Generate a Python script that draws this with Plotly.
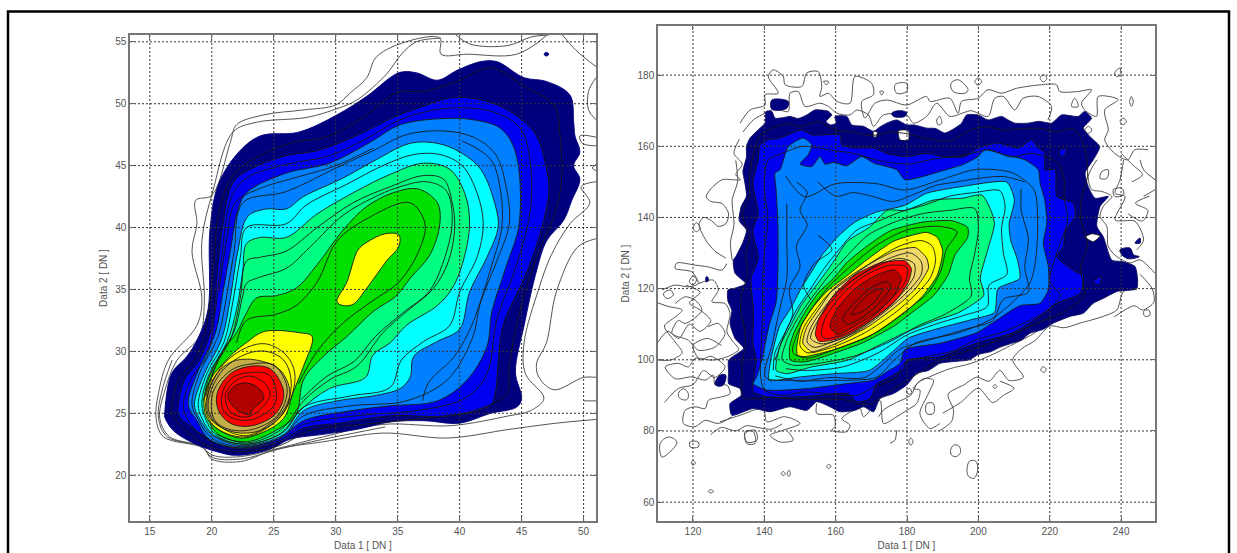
import plotly.graph_objects as go

NAVY="#00007f"; BLUE="#0000f0"; DODGER="#0080ff"; CYAN="#00ffff"; SPRING="#00ff80"; GREEN="#00e000"; YELLOW="#ffff00"; TAN="#f0d868"; OLIVE="#c4ae48"; RED="#ff0000"; DARK="#b00000"; WHITE="#ffffff"

X1_TICKS=[15,20,25,30,35,40,45,50]; Y1_TICKS=[20,25,30,35,40,45,50,55]
X2_TICKS=[120,140,160,180,200,220,240]; Y2_TICKS=[60,80,100,120,140,160,180]
X1_RANGE=[13.4,51.0]; Y1_RANGE=[16.3,55.55]
X2_RANGE=[110.2,249.5]; Y2_RANGE=[54.7,193.8]

# ---------- left panel
L_NAVY=[(16.2,25),(16.75,28.2),(18,29.6),(18.9,31.1),(19.7,33.4),(19.85,39.8),(20.5,43.4),(22,45.9),(23.9,47.4),(27,47.7),(30.1,49.1),(32.5,50.6),(35.1,52.5),(36.5,52.5),(38.2,51.9),(39.8,52.7),(41.7,53.4),(43,53.4),(45.2,52.1),(47,51.8),(48.9,50.7),(49.2,48.5),(49.3,47.4),(49.7,46.1),(49.2,45),(49.7,43.9),(49.05,42.2),(48.4,40.6),(47,38.9),(46.2,36.5),(45.2,32.1),(44.5,28.3),(45,26.2),(44.6,25.5),(42.5,25),(40,24.2),(37.1,24.4),(34.4,24.3),(31.7,23.7),(29,23.3),(26.3,22.9),(24.7,22.1),(22,21.6),(20.4,21.9),(18.5,22.6),(16.9,23.6),(16.2,24.7)]
L_BLUE=[(17.3,25.7),(17.8,27.7),(19,29.3),(20,32),(20.5,37),(20.9,40.3),(21.7,43.6),(23.1,44.7),(26,45.8),(28.5,46.2),(31.4,47.3),(34.9,49),(37.1,49.8),(39.5,50.5),(42.5,50.1),(44.9,48.8),(46.2,47.4),(46.9,45.2),(47.2,43),(46.4,39.2),(45.2,35.9),(43.5,32.1),(43.1,29),(42.9,26.8),(42.5,25.7),(39.2,24.8),(34.4,24.8),(30.3,24.2),(27.4,23.8),(25.5,22.7),(22.3,22.1),(19.9,22.9),(18.2,24),(17.3,24.9)]
L_DODGER=[(18.1,25.7),(18.8,28.2),(20.3,31.5),(20.9,34.8),(21.5,38.1),(22.1,41.4),(22.8,42.8),(26,44.4),(29.5,45.2),(32.8,46.9),(35.2,48.3),(38.7,48.8),(41.1,48.7),(43.3,48),(44.5,46.1),(44.8,40.3),(43.8,37),(42.6,33.2),(42.2,30.4),(40.6,27.7),(38.2,26),(34.4,25.6),(31.2,25.2),(27.4,24.4),(25.5,23),(22.3,22.2),(19.8,22.9),(18.8,24.4)]
L_CYAN=[(18.6,25.7),(19.4,28.2),(20.8,31),(21.5,34.3),(22.1,38.1),(22.9,40.9),(24.4,41.5),(26,41.5),(27.4,42.5),(30.6,44),(33.3,45.5),(36,46.8),(38.2,46.8),(40,46.1),(41.7,44.7),(42.9,41.7),(43.1,40),(42.2,37.6),(40.8,34.8),(40,31.8),(38.2,30.8),(36.3,29.6),(36,27.9),(35.2,27),(33,26.4),(30.1,26),(27.4,25.2),(25.8,23.3),(22.5,22.4),(20.1,23.2),(19,24.6)]
L_SPRING=[(19.2,26),(19.8,28.2),(21.2,30.7),(22,33.4),(22.5,36.5),(22.8,38.7),(23.9,39.2),(26,39.2),(28.5,41.1),(31.4,42.8),(34.4,44.3),(37.1,45.2),(39.2,44.7),(40.4,42.8),(40.8,40.3),(40.2,37),(39.4,35.1),(38.2,33.7),(35.7,32.1),(34.4,30.7),(33,29.7),(32.4,27.9),(29.5,27),(27.1,25.2),(25.6,23.4),(22.8,22.5),(20.4,23.2),(19.4,24.8)]
L_GREEN=[(19.4,26),(19.7,27.7),(20.9,30.1),(22,31.5),(22.7,32.9),(23.6,34.3),(25.2,34.5),(26.8,35.1),(28.5,37),(30.6,39.8),(32.5,41.7),(34.9,42.9),(36.7,43.1),(38.2,42),(38.4,40.3),(37.6,37.8),(36,35.9),(34.9,34.5),(33,33.2),(30.9,31.2),(29,29.6),(27.4,27.7),(26.8,24.9),(25.5,23.8),(22.8,22.7),(20.5,23.3),(19.6,24.8)]
L_YELLOW_A=[(22.8,30.7),(24.2,31.6),(27.1,31.5),(28.1,31.2),(27.4,28.8),(26.6,26.8),(25.8,24.6),(24.2,23.5),(22.3,23),(20.7,23.6),(19.6,24.6),(19.4,26.3),(20,27.9),(20.9,29),(22,30.1)]
L_YELLOW_B=[(30.1,34),(30.9,35.6),(31.8,38.2),(32.5,38.8),(34,39.5),(35.1,39.4),(35.1,38.5),(34.1,37.3),(32.5,35.1),(31.4,33.8),(30.6,33.7)]
L_TAN=[(19.7,26.6),(20.4,28.2),(21.7,29.2),(23.6,29.3),(25.5,28.5),(26.3,26.8),(25.9,25.2),(24.4,23.8),(22.3,23.4),(20.5,24),(19.7,24.9)]
L_RED=[(20.5,26.8),(21.5,28.2),(23.1,28.8),(24.7,28.6),(25.6,27.4),(25.8,26.3),(25.1,24.9),(23.3,24),(21.7,24.1),(20.8,24.8),(20.4,25.7)]
L_DARK=[(21.3,26.4),(22,27.3),(23.1,27.4),(24,26.8),(24.2,26.2),(23.3,25.3),(23.1,24.9),(22,25.3)]
LEFT_FILLS=[(L_NAVY,NAVY),(L_BLUE,BLUE),(L_DODGER,DODGER),(L_CYAN,CYAN),(L_SPRING,SPRING),(L_GREEN,GREEN),(L_YELLOW_A,YELLOW),(L_YELLOW_B,YELLOW),(L_TAN,OLIVE),(L_RED,RED),(L_DARK,DARK)]

L_C1=[(16.8,25.7),(17.3,27.7),(18.8,29.6),(19.6,32.3),(20.2,37.6),(20.5,40.9),(21.5,43.9),(22.8,45.2),(26.3,46.8),(29.5,47.4),(32.5,49.1),(34.9,50.9),(37.1,51),(39.8,51.8),(42.5,52.9),(45.2,51.4),(47.6,49.9),(48.1,47.4),(48.2,43.6),(47.6,40.9),(46.2,37.6),(44.9,33.4),(44,28.8),(43.8,26.6),(41.1,25.2),(37.1,24.6),(32.2,24.1),(27.9,23.6),(25.5,22.4),(22,21.9),(19.6,22.4),(17.7,23.8),(16.8,24.9),(16.8,25.7)]
L_C2=[(17.7,25.7),(18.4,27.9),(19.6,29.6),(20.3,33.4),(20.8,37.6),(21.6,42.5),(22.8,44),(26,45.1),(29.5,45.8),(32.5,47.2),(35.2,48.7),(38.7,49.6),(42.5,49.4),(44.9,48),(45.7,45.2),(45.7,41.4),(44.6,37),(43,32.6),(42.2,28.2),(40.6,26.3),(37.1,25.3),(31.7,24.8),(27.4,24.1),(25.5,22.8),(22.3,22.2),(19.3,23.1),(18,24.6),(17.7,25.7)]
L_C3=[(18.4,25.7),(19,28.2),(20.5,31.2),(21.2,34.5),(21.8,38.1),(22.5,42),(26,42.9),(29.8,44.7),(33,46.2),(35.7,47.5),(38.7,47.8),(41.1,47.3),(42.9,45.9),(43.8,43),(44,40.3),(43,37.3),(41.7,34),(41,31),(39,27.7),(35.7,26),(31.2,25.6),(27.4,24.8),(25.7,23.1),(22.4,22.3),(20,23),(18.9,24.5),(18.4,25.7)]
L_C4=[(18.9,25.7),(19.6,28.2),(21,30.8),(21.7,34),(22.3,37.6),(22.8,40),(26,40.3),(27.6,41.8),(30.9,43.5),(33.8,45),(36.3,45.9),(38.4,45.9),(40.2,45),(41.4,42.8),(41.9,40.3),(41.4,37.6),(40,34.8),(39.2,32.1),(37.1,30.8),(35.3,29.3),(34.4,27.1),(31.2,26.4),(27.4,25.5),(25.8,23.5),(22.7,22.5),(20.2,23.2),(19.2,24.6),(18.9,25.7)]
L_C5=[(19.3,26),(20.3,28.8),(21.6,31.2),(22.3,34.3),(22.8,37.3),(23.9,37.6),(26,38.1),(28.5,40),(31.4,42),(34.4,43.3),(37.1,44.2),(38.7,43.9),(39.4,42),(39.6,40),(39.1,37.3),(37.9,35.1),(35.7,33.2),(33.8,31.5),(31.7,28.8),(29.5,27.7),(27.4,26),(25.6,23.7),(22.8,22.6),(20.4,23.3)]
L_C6=[(19.5,26.3),(20.5,29.3),(21.8,31.6),(22.5,34.5),(22.8,35.5),(23.9,36),(26,36.7),(27.9,38.4),(30.6,41),(33,42.4),(34.9,43.2),(37.3,43.7),(38.9,43),(39.4,40.5),(38.6,37),(37.5,34.8),(35.4,33.1),(33.2,31.2),(31.5,29.2),(29.3,28),(27.2,26.1)]
L_C7=[(22,30.7),(22.8,32.5),(25.2,33),(26.8,33.7),(28.5,35.6),(30.1,38.9),(32.5,40.7),(36,42),(37.2,40.3),(36.7,38.1),(35.1,35.6),(33,34.1),(30.6,32.3),(28.5,30),(27,27.4)]
L_C8=[(40.2,47),(42.5,45.5),(43.3,43),(43.4,40),(42.6,37),(41.5,33.5),(40.7,31.5),(39.5,29.5),(37.5,27.5),(37,26)]
L_C9=[(20.6,35),(21.2,39),(21.9,42),(24,43.2),(27,44.1),(30,45),(33,46.4)]
L_R1=[(19.6,26.3),(20.9,28.9),(22.8,30.3),(24.4,30.6),(26,29.7),(26.7,28.2),(26.3,26),(25.2,24.4),(22.8,23.1),(20.5,23.7),(19.6,24.9),(19.6,26.3)]
L_R2=[(19.8,26.4),(20.9,28.5),(22.8,29.8),(24.4,30),(25.8,29.3),(26.4,27.7),(26.1,25.8),(25,24.4),(22.8,23.2),(20.7,23.9),(19.8,25),(19.8,26.4)]
L_R3=[(20.1,26.7),(21.6,28.5),(23.3,29),(25,28.9),(26,27.4),(26,26.2),(25.2,24.7),(23.3,23.7),(21.4,23.7),(20.2,24.5),(20.1,26.7)]
L_R4=[(20.9,26.8),(21.7,27.9),(23.1,28.3),(24.6,28.1),(25.2,26.8),(25,25.6),(23.3,24.5),(21.7,24.6),(20.9,25.3),(20.9,26.8)]
L_R5=[(21.1,26.5),(21.9,27.6),(23.1,28),(24.3,27.4),(24.7,26.5),(23.9,25.3),(22.8,24.7),(21.5,25.1),(21.1,26.5)]
LEFT_LINES=[L_C1,L_C2,L_C3,L_C4,L_C5,L_C6,L_C7,L_C8,L_C9,L_R1,L_R2,L_R3,L_R4,L_R5]

L_O1=[(51,24.5),(47.8,24.2),(44,23.7),(39,23),(33.8,23.4),(29,22.7),(25.2,22.1),(22.3,21.1),(20,21.3),(19.3,22.2),(16.1,23.1),(15.5,24.6),(15.7,26.6),(16.5,29.3),(18.8,32.1),(19.2,34.3),(18.4,38.1),(18.8,40.3),(18.7,42.2),(20,42.6),(21.5,46.9),(22,48.3),(24.2,49.1),(27.4,49.5),(30,49.9),(31.2,50.9),(32.5,52.1),(33.3,53.8),(36,55.1),(38.4,55.3),(38.5,54),(40.6,54),(44.6,54),(47,55.5)]
L_O2=[(39.7,55.55),(40.9,54.8),(43.9,54.7),(45.8,55.4),(47.2,55.55)]
L_O3=[(48.3,55.55),(49.4,54.3),(51,53)]
L_O4=[(51,39.1),(49.5,38.4),(47.8,34.8),(47,30.7),(46.2,29),(46.4,27.9),(47.6,26.9),(50,27.9),(51,27.9)]
L_O5=[(50,26),(51,26)]
L_O6=[(51,43.7),(49.8,43.3),(50.5,42),(48.9,40.3),(47.4,37.8),(46.4,35.1),(45.2,30.7),(45.3,28.2),(46.8,26.2),(45.7,25.2),(44,24.8),(39.3,24),(33.8,24.1),(29,23.1),(25.5,22.2),(22.3,21.5),(20.1,21.6),(19,22.4),(16.6,23.1),(15.8,24.6),(16.2,26.8),(17.2,29.3),(19,31.2),(19.4,34),(19.2,38.9),(20.1,43),(21.7,47.7),(23.6,48.5),(27.7,48.9),(30.1,49.6),(31.7,50.3),(34.1,52.4),(35.3,54),(36.5,55),(38.5,55.3)]
L_O7=[(51,52.1),(50.4,51),(50.4,49.5),(51,48.7)]
L_O8=[(51,47.3),(49.7,47.4),(49.9,46.8),(51,46.6)]
L_O9=[(51,45.1),(50.7,44.8),(51,44.6)]
L_O10=[(34,23.9),(29,22.9),(25.4,22.1),(22.3,21.3),(20,21.45),(19.2,22.3),(16.4,23.1),(15.7,24.6),(15.95,26.7),(16.8,29.3)]
LEFT_OUTER=[L_O1,L_O2,L_O3,L_O4,L_O5,L_O6,L_O7,L_O8,L_O9,L_O10]
L_SPOT=[(46.8,54),(47,54.15),(47.2,54),(47,53.85)]

# ---------- right panel
R_NAVY=[(130.9,84.4),(130.4,87.7),(133.5,90),(133.2,91.9),(130,93.3),(130,96.5),(130,99.9),(134.2,103.2),(131.8,106),(130.4,110.2),(130.9,113.9),(129.8,116.5),(129.8,119.6),(131.3,120),(134.8,121.4),(131.8,124.3),(131.3,128),(132,129),(134,133),(135,136.5),(133,139),(133.5,143),(135,146),(134.5,150),(134,153),(135,157),(135,160),(136,162.3),(138.8,165.1),(140.2,166.5),(140.5,169.8),(142.1,169.8),(143,167.9),(145,168),(147.2,168.4),(149.5,167.8),(151.9,168.8),(154.2,170.2),(158,169.8),(158.9,168.8),(157.3,167),(158.4,166),(160.1,166.5),(159.8,168.4),(163.1,168.4),(164.5,166),(167.8,165.6),(170.6,164.2),(172.5,165.5),(174.3,166.5),(177.1,167.4),(179.9,166),(182,166),(185.5,165.1),(188,165),(190.6,163.7),(193.4,165.1),(195.3,166.5),(196.7,168.8),(199.9,168.8),(202.7,167.4),(206.5,168.4),(208.5,167.3),(210.2,166.5),(214,166.5),(217,167),(220.5,166.5),(223.3,168.8),(228,168.4),(229.8,169.8),(231.7,167.9),(229.4,165.1),(231.7,162.3),(234,159.9),(232.2,156.2),(229.9,152.5),(230.8,148.7),(232.7,145.4),(236.4,145.9),(234.1,143.1),(233.2,137.5),(235,134.6),(237.4,128),(240.2,127.6),(243.9,126.2),(244.4,120.1),(238.8,119.2),(235.5,117.5),(232.2,115.9),(229.4,113.1),(225.7,112.2),(221,110.3),(218,108.5),(214.5,107.5),(212,105.5),(209.5,104.7),(206,103.5),(203.5,102.3),(200,101.5),(197.5,100),(193,99.5),(189.2,99),(186,97),(182.7,96.2),(179.9,92.9),(176.2,90.5),(172.4,89.1),(170.6,85.4),(167.8,86.8),(165.4,85.8),(161.2,85.4),(158.4,86.8),(154.7,88.2),(151.9,85.8),(147.2,86.8),(141.6,85.4),(136.9,86.3)]
R_BLUE=[(136.9,91),(140.7,89.6),(149.1,89.6),(155.6,90),(163.6,90.5),(165.9,88.2),(169.6,89.1),(171.5,93.3),(175.2,95.2),(179,97.6),(179.9,99.9),(189.5,100.9),(199.5,104.7),(209.6,107.6),(217.3,112.2),(222,115.9),(228.5,118.7),(229.4,123.9),(228,124.3),(222,129),(223.8,131.8),(224.3,136.1),(227.1,140.3),(226.6,144),(222,145.9),(221.5,153.4),(218.6,153.4),(218.6,158),(216.8,159.5),(214.9,161.8),(211.1,159.5),(205.5,160.9),(199.9,159.5),(196.2,157.1),(190.6,157),(185.5,158),(179.9,157.1),(174.3,158),(170.6,159.5),(165,159.5),(161.7,160.4),(161.2,163.2),(156.5,163.2),(153.3,163.2),(150.5,164.6),(144.4,162.3),(141.1,161.8),(138.8,160.4),(138.3,156.2),(136.8,149.7),(138.3,141),(136.8,136.3),(138.3,128.6),(136.3,122.9),(137,113.3),(136.8,104.7),(137.8,99.9),(136.8,93.2)]
R_BLUE2=[(222.8,159),(224.7,159.2),(224,157.1),(222.8,157.6)]
R_BLUE3=[(232.2,122),(234.6,123.5),(233.7,121)]
R_DODGER=[(143,152.5),(144.4,153.4),(146.7,159.9),(150.9,162.3),(153.3,160.4),(152.3,157.6),(150,155),(153.3,154.3),(155.6,157.1),(157,155),(159.5,155.5),(163,154.5),(167.3,157.1),(170.6,155.3),(177.1,153.4),(179.4,150.6),(189.5,153),(196,155),(199.9,157.1),(201.8,159),(207.4,157.6),(213,156.2),(216.8,153.4),(217.3,149.6),(218.6,144.9),(219.2,138.4),(218.2,132.8),(219.6,126.2),(219.6,119.7),(217.3,115.9),(211.6,115.2),(205.5,111.4),(199.5,107.6),(189.5,104.7),(179.4,102.8),(178,99),(174.3,96.6),(170.6,94.3),(163.1,93.3),(151.9,91.9),(140.7,91.5),(136.9,93.3),(137.8,95.1),(139.3,99.9),(141.3,109.5),(143.3,116.2),(143.8,124.8),(143.8,138.2),(143.3,147.8)]
R_CYAN=[(141.3,94.2),(141.8,99.9),(144.3,109.5),(147.3,114.3),(150.3,120),(153.3,124.8),(156.3,129.6),(160.4,134.4),(165.4,138.7),(171.4,141.5),(179.4,143.4),(185.5,146.8),(195.5,148.7),(208,149.9),(210.1,144.9),(208.6,138.2),(209.1,133.4),(210.8,128.6),(211.6,122.9),(205.5,120),(204.5,113.3),(198.5,111.4),(189.5,109),(180.4,106.1),(175.4,101.8),(169.4,97),(159.4,96.1),(149.3,95.1),(143.3,94.2)]
R_SPRING=[(143.3,97),(144.3,103.7),(147.3,109.5),(150.3,115.2),(155.3,121.9),(159.4,127.6),(163.4,133.4),(169.4,137.2),(174.4,142),(179.4,142),(187.5,144.9),(195.5,145.4),(201,146.3),(203.5,142),(204.5,138.2),(202.5,130.5),(200.5,122.9),(201.5,118.1),(194.5,113.3),(187.5,110.9),(179.4,107.6),(171.4,103.7),(163.4,99.9),(153.3,98),(146.3,96.1)]
R_GREEN=[(147.1,103.7),(148.3,107.6),(151.3,113.3),(155.3,119),(159.4,122.9),(163.4,127.6),(169.4,132.4),(175.4,136.3),(184.5,138.7),(192.5,139.1),(197,137.2),(197,134.4),(193.5,129.6),(191.5,123.8),(187.5,118.1),(181.4,113.3),(176.4,109.5),(167.4,104.7),(159.4,101.8),(151.3,99.4),(147.3,99.9)]
R_YELLOW=[(149.1,103.7),(150.3,109.5),(153.3,114.3),(157.3,119),(163.4,123.8),(169.4,128.6),(176.4,133.4),(185.5,135.8),(188.5,134.4),(190,130.5),(188.5,123.8),(184.5,118.1),(179.4,113.3),(169.4,106.6),(159.4,102.8),(151.3,100.9),(149.3,101.3)]
R_TAN=[(150.8,104.7),(151.8,109),(155.3,114.3),(159.4,120),(167.4,125.7),(176.4,130.5),(182.4,131.5),(185.5,128.6),(186,125.7),(182.4,120),(178.4,116.2),(169.4,109.5),(160.4,104.7),(153.3,102.3)]
R_RED=[(154.3,107.1),(155.3,111.4),(159.4,118.1),(165.4,123.8),(172.4,127.2),(179.4,127.8),(181.2,125.7),(180.4,121.9),(176.4,116.2),(170.4,111.4),(164.4,107.6),(159.4,105.6),(155.3,105.2)]
R_DARK=[(158.4,109.5),(160.4,114.3),(165.4,120),(171.4,123.8),(176.4,125.3),(178.4,122.9),(176.4,118.1),(171.4,113.3),(165.4,109.5),(160.4,107.1)]
R_WHITE1=[(229.9,134.5),(231.8,135.4),(234.1,134.8),(232.2,133.2)]
R_WHITE2=[(170.6,164.2),(171.7,163.9),(171.3,162.6),(170.6,162.7)]
R_WHITE3=[(177.6,164.4),(180.4,164.4),(180.4,161.8),(178,161.8)]
RIGHT_FILLS=[(R_NAVY,NAVY),(R_WHITE1,WHITE),(R_WHITE2,WHITE),(R_WHITE3,WHITE),(R_BLUE,BLUE),(R_BLUE2,BLUE),(R_BLUE3,BLUE),(R_DODGER,DODGER),(R_CYAN,CYAN),(R_SPRING,SPRING),(R_GREEN,GREEN),(R_YELLOW,YELLOW),(R_TAN,TAN),(R_RED,RED),(R_DARK,DARK)]

R_C1=[(134,89.4),(133.8,94),(133.8,99.9),(134.8,104),(134.3,109.5),(133.3,114),(133.8,119),(135.3,124),(134.8,129.6),(135.8,135),(133.8,141),(135.8,146),(135.8,150.6),(136.8,157.3),(138.8,163),(142,165),(146.3,166.4),(150,165.5),(155.3,166.9),(160,164.5),(164.4,164),(170,163),(175.4,164),(180,163.5),(186.5,162),(192,161.5),(197.5,164.5),(202,165.5),(207.5,164.5),(212,165),(217.6,165),(222,164),(226.6,165),(229.6,160.2),(230.6,151.6),(229,146),(228.6,140.1),(230.6,132.4),(228.6,125.7),(229.6,118.1),(223.6,113.3),(216.6,110.4),(208.6,106.6),(199.5,103.3),(189.5,99.9),(181.4,95.1),(175.4,91.3),(169.4,87.5),(161.4,88.9),(151.3,88.9),(142.3,89.4),(134,89.4)]
R_C2=[(140,91.5),(145,90),(151,91),(158,90.5),(166,90),(171,92.5),(177,95),(179,99),(186,101),(193,102.5),(199,105.5),(206,107.5),(212,110),(218,113),(223,118),(220,122),(221,127),(223,133),(225,139),(224,146),(224,151),(222,155.5),(215,158),(209,157),(203,159),(196,157.5),(188,156.5),(180,155),(172,156),(165,158),(158,159),(151,160),(145,158),(141,156),(140,148),(141,140),(140,130),(139.5,122),(139.5,112),(139,102),(139,95),(140,91.5)]
R_C3=[(146,151.6),(151.3,145.8),(160,149.5),(171.4,149.5),(179.4,147.7),(189.5,150.6),(199.5,153.5),(209.6,152.5),(215.6,147.7),(216.6,138.2),(216.1,128.6),(214.6,121.9),(209.6,116.2),(203.5,111.4),(194.5,107.6),(182.4,104.7),(176.4,99.9),(171.4,95.1),(159.4,94.2),(147.3,94.2),(140.3,95.1),(142.3,104.7),(144.3,114.3),(146.3,122.9),(146.3,133.4),(146.3,143.9)]
R_C4=[(149,150),(152,147),(150,142),(152,138),(149,132),(150,126),(147,120),(148,113),(146,108),(143,100)]
R_C5=[(155,150),(160,146),(165,147),(170,146),(176,144.5),(182,146.5),(188,149),(194,150),(200,151),(207,151.5),(213,150)]
R_C6=[(155,135),(159,131),(154,127),(151,121),(153,117)]
R_C7=[(143,95.5),(150,94),(158,95),(168,95),(173,98.5),(178,103),(186,105.5),(196,108.5),(204,111),(207,117),(214,119),(213,126),(214,134),(212,142),(212,148)]
R_C8=[(142.5,97),(143,102),(146,108),(149,114),(153,120),(157,126),(161,131),(166,136.5),(172,139),(178,141.5),(185,143.5),(192,146),(199,147),(206,147.5),(207.5,143),(206.5,137),(207,130),(208,124),(203,121),(202.5,115),(196,112.5),(188,110),(180,107),(172,102),(162,98),(152,97),(146,97.5)]
R_C9=[(145,100),(146.5,106),(149,111),(153,117),(158,123.5),(163,129),(169,135),(176,138.5),(184,141),(192,142),(199,142.5),(200,137),(199,130),(197.5,123),(198,118),(191,113),(183,109.5),(175,105),(165,101),(155,99),(148,98.5),(145,100)]
R_C10=[(148,102),(149.5,108),(153,114),(158,120.5),(165,127),(172,132.5),(180,136.5),(189,137.5),(194,136),(191,131),(189.5,125),(186,119),(180,114),(171,107.5),(160,103),(152,100.5),(148,102)]
R_Y1=[(150,104),(151,109),(154,113.5),(158,118.5),(164,123),(171,128),(178,132),(184,133.5),(187,132),(188,128),(186.5,123),(182,118),(177,113.5),(168,107.5),(159,103.5),(152,102),(150,104)]
R_Y2=[(152,105),(153,109),(157,115),(161,119.5),(168,124.5),(175,128.5),(181,130),(184,127.5),(184,124),(180,119),(175,114.5),(167,108.5),(159,105),(154,103.5),(152,105)]
R_Y3=[(153,106),(155,111),(159,116.5),(165,122.5),(172,126.5),(178,128.5),(182,127),(182,123.5),(178,118),(172,112.5),(163,106.5),(156,104.5),(153,106)]
R_D1=[(156,107),(157,111.5),(161.5,118),(168,123.5),(175,126.5),(180,126),(179.5,122),(175,116.5),(169,111),(162,107),(157,106),(156,107)]
R_D2=[(161.9,111.4),(165.4,116.2),(170.4,120.5),(174.4,121.9),(175.4,120.5),(172.4,116.2),(167.4,111.9),(163.4,110),(161.9,111.4)]
R_D3=[(164.4,112.8),(169.4,118.6),(173.1,120),(171.2,116.6),(166.9,113.3),(164.4,112.8)]
RIGHT_LINES=[R_C1,R_C2,R_C3,R_C4,R_C5,R_C6,R_C7,R_C8,R_C9,R_C10,R_Y1,R_Y2,R_Y3,R_D1,R_D2,R_D3]

# noisy outer contours
R_N1=[(111.3,119.6),(115,121),(118.7,120.5),(121.5,121.4),(119.7,124.7),(115,125.7),(115.5,127.2),(120.6,126.6),(124.3,126.1),(128.1,125.2),(129.5,127)]
R_N2=[(121.5,121.4),(125.7,122.4),(127.1,119.6),(125.3,116.3),(129,115.8),(130.4,113),(129.5,107.9),(130.9,105.5),(132.8,102.9),(129.5,100.8),(125.3,99.9),(120.6,100.4),(118.7,98),(115.9,99),(112.2,98),(115,94.7),(119.7,95.2),(123.4,94.3),(125.7,95.7),(126.2,92.9),(129.5,92.9),(130.4,90.5),(128.1,89.6),(124.3,88.6),(123.4,86.3),(120.6,86.8),(117.8,85.8),(117.3,82.1),(120.6,81.2),(123.4,83),(127.1,82.1),(130.9,84)]
R_N3=[(115,115.8),(117.8,117.7),(120.6,116.8),(122.5,113.9),(117.8,110.2),(115.9,111.1),(114.1,107.4),(118.7,105.5),(121.5,102.7),(126.2,103.6),(129,107.4),(127.1,110.2),(124.3,109.3)]
R_N4=[(127.6,82.6),(133.2,84.4),(139.7,86.3),(140.7,82.6),(145.3,84),(147.7,83.5),(150,82.1),(145.3,80.2),(141.6,78.8),(144.4,76.9),(148.1,77.4),(146.7,79.8)]
R_N5=[(154.7,87.7),(154.7,84.9),(159.4,84.4),(159.8,81.2),(158.9,80.2),(163.1,79.8),(164,81.6),(161.7,83.5),(166.8,86.3),(167.8,84),(172.4,88.6),(173.4,82.1),(177.1,84),(179.9,85.8),(182.7,87.7),(183.6,91.5),(181.8,91.9),(184.6,94.7),(187.4,94.3),(186,90.5),(183.6,84.9),(186.4,80.7),(189.2,82.1)]
R_N6=[(133.2,166.5),(136,170.2),(140.2,171.6),(140.2,174.5),(143.9,174.9),(141.1,179.6),(142.5,181.5),(145.3,179.6),(145.8,177.3),(150.5,176.8),(151.9,180.6),(155.1,181),(156.1,176.8),(155.6,174),(158,174.9),(160.3,172.6),(164,172.1),(165.4,179.6),(170.1,177.7),(170.6,174.5),(167.3,172.6),(168.2,167.9),(171,172.1),(174.3,173),(179.9,171.6),(185.5,174),(186.4,172.6),(192,173.5),(194.3,169.3),(195.3,172.6),(199.9,173.5),(202.7,175.9),(206.5,174.9),(210.7,176.3),(217.7,177.3),(221.9,177.3),(222.8,175.4),(228,175.4),(231.7,175.9),(228.9,172.1),(229.8,170.2),(233.1,168.4),(233.6,174),(239.2,173.1),(235.4,170.2),(236.4,164.6),(235.4,161.8),(238.2,158),(241.9,156.2),(243.8,159),(247.6,159)]
R_N7=[(134,164),(137,167.5),(140.2,169.3),(143,170.5),(146.7,169.8),(147.2,174.9),(149.5,175.4),(151.4,171.2),(155.6,172.1),(158,171.2),(160.3,169.3),(164,168.8),(165.9,170.2),(169.2,168.8),(170.6,165.6),(173.4,168.8),(179.9,168.8),(181.8,166.5),(185.5,168.4),(188.3,172.1),(192,168.4),(196,169.5),(198,170),(202.7,168.4),(204.6,173.5),(207,174),(210.2,170.2),(212.5,173.5),(216.7,174),(220.5,171.2),(219.5,167.4)]
R_N8=[(233.2,156.2),(230.8,151.5),(231.8,147.8),(234.6,147.3),(237.4,145.9),(235,143.1),(234.1,140.3),(236,137.5),(236.4,131.8),(238.8,129),(242.5,127.2),(245.3,128.1),(249.5,124.3)]
R_N9=[(240.7,156.2),(239.7,150.6),(238.3,146.8),(241.1,145.9),(238.3,139.3),(243.9,138.9),(246.3,133.7),(244.4,130.9)]
R_N10=[(244.4,119.7),(240.7,119.2),(238.8,114),(235,112.2),(228.5,110.3),(224,109),(220,109.5),(216,105.5),(212,103),(209.6,99.9),(212.6,95.1),(208.6,94.2),(206,97),(203,94),(199.5,95.1),(196,93),(191.5,90.3),(193,86),(192.5,82.7),(189,80)]
R_N11=[(245.3,156.2),(246.3,153.4),(249.5,150.6)]
R_N12=[(246.3,145.9),(249.5,147.8)]
R_N13=[(245.3,124),(248.7,120),(249.2,116.2),(246,114),(243.7,115.2),(238,112)]
R_N14=[(133,162),(131.5,158),(133.8,155),(132,152),(133.3,150.6),(128.2,150.6),(125,148),(123.7,145.8),(125,144.5),(128.2,143.9),(130,141),(129.2,138.2),(127,137.5),(125.2,139.1),(123,140),(121.7,138.2),(122.2,136.3),(124,133),(126.2,130.5),(129.2,128.6)]
R_N15=[(132,156),(132.5,150),(131,145),(131.5,138),(130.5,133),(131,128)]
R_N16=[(218,109),(214,106.5),(209,104),(204,101.5),(198,99),(192,97.5),(187,95.5),(183,93.5),(181,90),(177,88),(173.5,86),(172,84)]
R_N17=[(110.2,105),(113,108),(116,106),(119,110),(122,108),(125,111),(122,114),(119,116),(122,119),(118,121)]
R_N18=[(112,88),(116,92),(120,93),(123,97),(126,95),(129,98),(125,101),(122,100),(120,104),(124,106),(128,104)]
R_N19=[(125,79),(128,81),(132,80),(135,81.5),(138,81),(142,80.5),(145,82)]
R_N20=[(190,85),(195,88),(200,92),(204,88),(207,90),(210,92),(206,94)]
R_N21=[(110.2,116),(113,115),(117,114),(115,112),(112,109.5),(115,105),(117,102),(114,100),(110.4,99.9)]
R_N22=[(243,150),(246,152),(243,155),(240,158)]
R_N23=[(242,141),(246,139),(247.5,142),(244,144),(248,146)]
R_NETS=[R_N1,R_N2,R_N3,R_N4,R_N5,R_N6,R_N7,R_N8,R_N9,R_N10,R_N11,R_N12,R_N13,R_N14,R_N15,R_N16,R_N17,R_N18,R_N19,R_N20,R_N21,R_N22,R_N23]
R_LOOPS=[
 [(115.9,90.5),(117.3,91.9),(118.7,90.5),(118.3,88.8),(116.4,89.1)],
 [(111.7,118.6),(113.6,119.6),(114.5,118.2),(112.7,117.2)],
 [(119.2,76.9),(121.5,76.9),(121.5,75.5),(119.2,75.5)],
 [(110.8,76.5),(113.1,78.3),(115.5,76.9),(113.1,73.7),(111.3,72.7)],
 [(134.6,79.3),(137.4,80.2),(137.9,77.4),(135.1,76.9)],
 [(185.5,87.7),(187.4,87.7),(187.4,84.9),(185.5,84.9)],
 [(179.9,91.5),(180.8,91.9),(181.3,90.5),(180.1,90.5)],
 [(156.6,178.2),(158,178.2),(157.5,177.3)],
 [(176.6,177.3),(179.9,177.7),(179.9,175.4),(177.1,174.9)],
 [(172.4,175.4),(173.4,175.4),(172.9,174.4)],
 [(188.3,167.4),(189.2,168.4),(189.7,166.5),(188.8,166)],
 [(192.3,177.7),(194.3,178.7),(197.1,175.9),(196.2,174.9),(192.9,175.4)],
 [(199,178.2),(199.9,179.2),(200.9,178.2),(199.9,177.2)],
 [(217.3,179.1),(218.2,180.1),(219.2,179.1),(218.2,178.1)],
 [(238.2,180.6),(239.6,182),(239.9,180.1),(238.7,179.6)],
 [(242.4,172.6),(242.9,174),(243.4,172.6),(242.9,171.2)],
 [(239.7,167),(240.6,167.9),(241.5,167),(240.6,166.1)],
 [(227,173.5),(228,171.2),(226.1,171.2)],
 [(229.8,164.6),(230.8,165.6),(231.8,164.6),(230.8,163.6)],
 [(234.6,152.9),(236.4,153.4),(236,151),(234.1,151)],
 [(237.8,147.8),(240.2,148.2),(240.7,146.4),(238.3,145.9)],
 [(246.3,113.6),(247.7,114),(248.1,112.6),(246.7,112.2)],
 [(192.2,74.5),(193,76),(194.5,75.8),(195,74),(193.8,72.8),(192.5,73.2)],
 [(196.8,69),(197.5,71.5),(199.3,71.5),(199.8,69),(198.8,66.7),(197.3,67.2)],
 [(119.5,71),(120,71.7),(120.7,71),(120,70.4)],
 [(124.3,63),(125,63.5),(125.8,63),(125,62.6)],
 [(144.7,68),(145.3,68.6),(145.9,68),(145.3,67.5)],
 [(146.4,68),(146.9,69),(147.3,68),(146.9,67.2)],
 [(157.5,70),(158,70.6),(158.7,70),(158,69.5)],
 [(217.5,97),(218,98),(219,97.5),(218.5,96.5)],
 [(134.6,79.8),(136.9,79.8),(137.4,76.5),(135.1,76.5)],
 [(204,92.5),(204.7,93),(205.2,92.5),(204.7,92)],
 [(180.5,77),(181,78),(181.7,77),(181,76)],
 [(119,122),(120,123.5),(121,122.5),(120,121)],
 [(120,137),(121,138.5),(122,137),(121,136)],
]
R_J=[(177.1,80.2),(176.6,77.4),(175.2,76.5)]
R_SPOTS=[[(142.1,173),(146.7,172.6),(146.3,170.7),(142.1,170.4)],[(175.7,169.3),(177.6,170),(179.9,169.5),(179.4,168.4),(176.2,168.4)],[(126.2,93.3),(127.6,95.7),(129.2,95.7),(128.5,92.9),(127,92.6)],[(123.5,122.6),(123.9,123.4),(124.4,122.6),(123.9,121.8)],[(239.7,130.9),(242.5,131.4),(243.5,129.5),(245.1,129),(242,128.4),(240.2,129.5)],[(243.9,132.8),(245.3,134.2),(245.3,132.8)]]

fig=go.Figure()
def poly(pts,ax,fill=None,color="#1a1a1a",width=0.9,closed=False,smooth=1.0):
    xs=[p[0] for p in pts]; ys=[p[1] for p in pts]
    if fill or closed:
        xs=xs+xs[:1]; ys=ys+ys[:1]
    fig.add_trace(go.Scatter(x=xs,y=ys,mode="lines",xaxis="x"+ax,yaxis="y"+ax,
        fill="toself" if fill else None,fillcolor=fill,
        line=dict(color=color,width=width,shape="spline",smoothing=smooth),hoverinfo="skip",showlegend=False))

for pts in LEFT_OUTER: poly(pts,"",color="#555555",width=1)
for pts,c in LEFT_FILLS: poly(pts,"",fill=c,color="#1a1a1a" if c!=NAVY else NAVY)
poly(L_SPOT,"",fill=NAVY,color=NAVY)
for pts in LEFT_LINES: poly(pts,"")
for pts in R_NETS+[R_J]: poly(pts,"2",color="#555555",width=1,smooth=0.8)
for pts in R_LOOPS: poly(pts,"2",color="#555555",width=1,closed=True)
for pts,c in RIGHT_FILLS: poly(pts,"2",fill=c,color="#1a1a1a" if c!=NAVY else "#0a0a60",smooth=0.6)
for pts in R_SPOTS: poly(pts,"2",fill=NAVY,color="#0a0a60")
for pts in RIGHT_LINES: poly(pts,"2",smooth=0.8)

def grid(xt,yt,xr,yr,ax):
    style=dict(color="#333333",width=1,dash="2px 2px")
    for t in xt:
        fig.add_trace(go.Scatter(x=[t,t],y=yr,mode="lines",xaxis="x"+ax,yaxis="y"+ax,line=style,hoverinfo="skip",showlegend=False))
    for t in yt:
        fig.add_trace(go.Scatter(x=xr,y=[t,t],mode="lines",xaxis="x"+ax,yaxis="y"+ax,line=style,hoverinfo="skip",showlegend=False))
grid(X1_TICKS,Y1_TICKS,X1_RANGE,Y1_RANGE,"")
grid(X2_TICKS,Y2_TICKS,X2_RANGE,Y2_RANGE,"2")

W,H=1237,553
tf=dict(family="Liberation Sans, Arial, sans-serif",size=10,color="#555555")
def axis(rng,ticks,dom,anchor,title,standoff):
    return dict(range=rng,tickmode="array",tickvals=ticks,ticktext=[str(t) for t in ticks],domain=dom,anchor=anchor,
        showgrid=False,zeroline=False,showline=True,linecolor="#777777",linewidth=1.5,mirror="ticks",ticks="inside",ticklen=4,tickcolor="#666666",
        tickfont=tf,title=dict(text=title,font=tf,standoff=standoff),layer="above traces")
fig.update_layout(width=W,height=H,margin=dict(l=0,r=0,t=0,b=0),paper_bgcolor="white",plot_bgcolor="white",showlegend=False,
    xaxis=axis(X1_RANGE,X1_TICKS,[130/W,596/W],"y","Data 1 [ DN ]",6),
    yaxis=axis(Y1_RANGE,Y1_TICKS,[1-521/H,1-35/H],"x","Data 2 [ DN ]",6),
    xaxis2=axis(X2_RANGE,X2_TICKS,[658/W,1155/W],"y2","Data 1 [ DN ]",6),
    yaxis2=axis(Y2_RANGE,Y2_TICKS,[1-521/H,1-26/H],"x2","Data 2 [ DN ]",6),
    shapes=[dict(type="rect",xref="paper",yref="paper",x0=8/W,x1=1229/W,y0=-0.05,y1=1-11.5/H,line=dict(color="black",width=2.5),layer="above")])
fig.write_html("out.html",post_script="document.body.style.margin='0';document.body.style.overflow='hidden';",config={"displayModeBar":False})
